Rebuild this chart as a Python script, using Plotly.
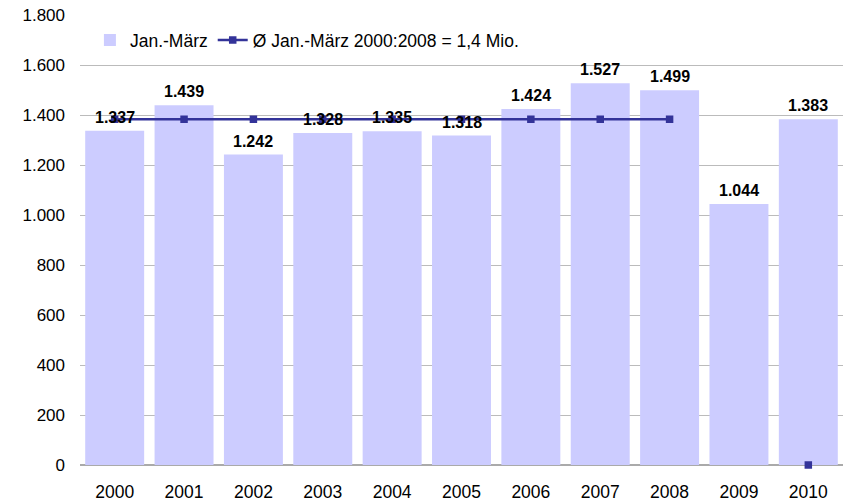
import plotly.graph_objects as go

years = ["2000", "2001", "2002", "2003", "2004", "2005", "2006", "2007", "2008", "2009", "2010"]
jan_maerz = [1337, 1439, 1242, 1328, 1335, 1318, 1424, 1527, 1499, 1044, 1383]
avg_line = [1383, 1383, 1383, 1383, 1383, 1383, 1383, 1383, 1383, None, 0]
bar_name = "Jan.-März"
line_name = "Ø Jan.-März 2000:2008 = 1,4 Mio."
y_ticks = [0, 200, 400, 600, 800, 1000, 1200, 1400, 1600, 1800]

font = "Liberation Sans, Arial, sans-serif"

fig = go.Figure()
fig.add_trace(go.Bar(
    x=years, y=jan_maerz, name=bar_name,
    marker=dict(color="#CCCCFF", line=dict(width=0)),
))
fig.add_trace(go.Scatter(
    x=years, y=avg_line, name=line_name, mode="lines+markers",
    connectgaps=False, cliponaxis=False,
    line=dict(color="#333399", width=2.5),
    marker=dict(symbol="square", size=7.5, color="#333399"),
))

# category axis: annotations use the category index
for i, v in enumerate(jan_maerz):
    fig.add_annotation(
        x=i, y=v, xref="x", yref="y", text=f"{v:,}".replace(",", "."),
        showarrow=False, yanchor="bottom", yshift=3,
        font=dict(family=font, size=16, color="#000000", weight="bold"),
    )

fig.update_layout(
    width=843, height=504,
    margin=dict(l=80, r=0, t=15, b=39, autoexpand=False),
    paper_bgcolor="white", plot_bgcolor="white",
    separators=",.",
    bargap=0.15,
    font=dict(family=font, size=17, color="#000000"),
    legend=dict(orientation="h", x=0.013, y=0.944, xanchor="left", yanchor="middle",
                bgcolor="rgba(0,0,0,0)", font=dict(size=17.5), traceorder="normal"),
    xaxis=dict(type="category", range=[-0.5, len(years) - 0.5],
               showgrid=False, showline=False, ticks="",
               tickfont=dict(size=17.5), automargin=False, ticklabelstandoff=14),
    yaxis=dict(range=[0, 1800], tickvals=y_ticks, tickformat=",.0f",
               showgrid=True, gridcolor="#BBBBBB", gridwidth=1,
               zeroline=True, zerolinecolor="#AAAAAA", zerolinewidth=1.5,
               ticks="", ticklen=0, tickfont=dict(size=17),
               automargin=False, ticklabelstandoff=14),
)

fig.write_html("out.html", config={"displayModeBar": False},
               post_script="document.body.style.margin='0';")
